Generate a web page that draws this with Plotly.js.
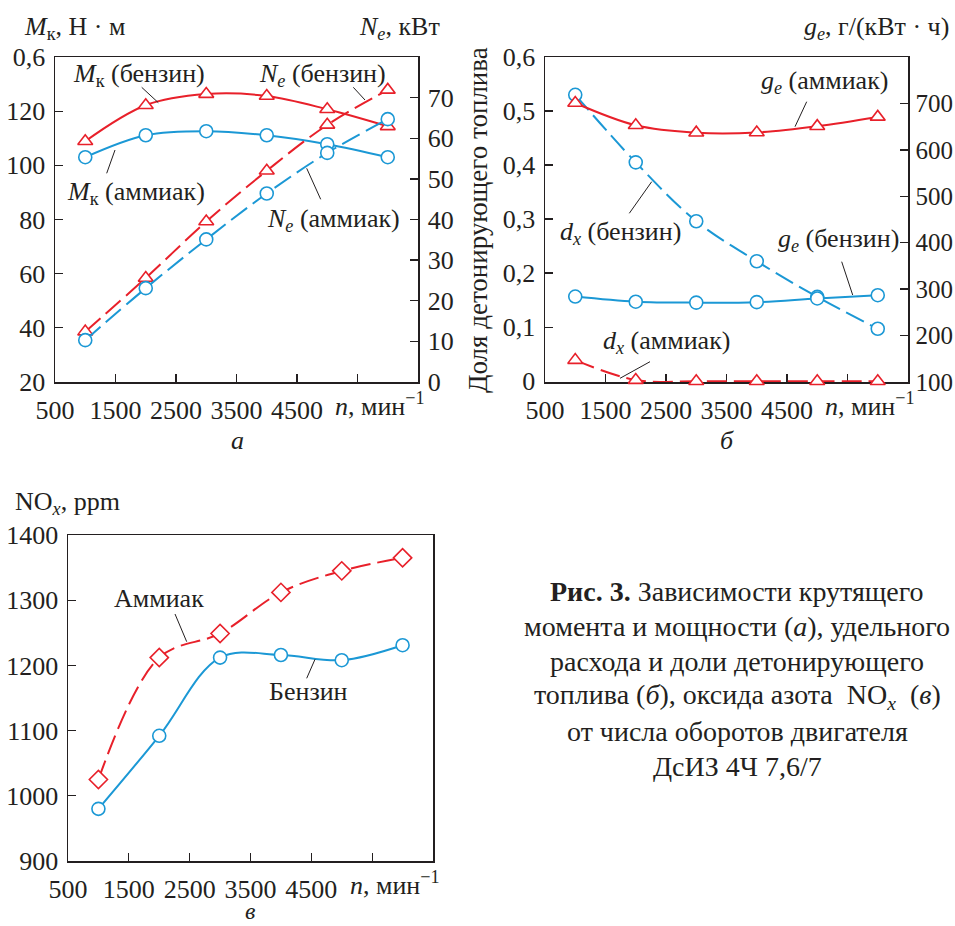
<!DOCTYPE html>
<html>
<head>
<meta charset="utf-8">
<script src="https://cdn.plot.ly/plotly-3.0.1.min.js"></script>
<style>html,body{margin:0;padding:0;background:#fff;overflow:hidden}</style>
</head>
<body>
<div id="chart" style="width:955px;height:926px"></div>
<script>
// ---------- data ----------
const rpm = [1000, 2000, 3000, 4000, 5000, 6000];
// panel a
const mkPetrol = [108.9, 122.2, 126.3, 125.6, 120.7, 114.4];
const mkAmmonia = [103.0, 111.1, 112.6, 111.1, 107.8, 103.0];
const nePetrol = [12.4, 25.6, 39.5, 52.0, 63.3, 71.9];
const neAmmonia = [10.3, 23.1, 35.1, 46.4, 56.4, 64.7];
// panel b
const geAmmonia = [701, 653, 637, 637.5, 651, 671];
const gePetrol = [284, 273, 271, 272, 280, 287];
const dxPetrol = [0.530, 0.405, 0.296, 0.222, 0.156, 0.097];
const dxAmmonia = [0.039, 0.002, 0, 0, 0, 0];
// panel c
const noxAmmonia = [1025, 1212, 1249, 1312, 1345, 1365];
const noxPetrol = [980, 1092, 1212, 1216, 1208, 1231];
// tick labels
const xTickVals = [500, 1500, 2500, 3500, 4500, 5500];
const xTickText = ['500', '1500', '2500', '3500', '4500', ''];
const mkTickVals = [20, 40, 60, 80, 100, 120, 140];
const mkTickText = ['20', '40', '60', '80', '100', '120', '0,6'];
const neTickVals = [0, 10, 20, 30, 40, 50, 60, 70];
const neTickText = ['0', '10', '20', '30', '40', '50', '60', '70'];
const dxTickVals = [0, 0.1, 0.2, 0.3, 0.4, 0.5, 0.6];
const dxTickText = ['0', '0,1', '0,2', '0,3', '0,4', '0,5', '0,6'];
const geTickVals = [100, 200, 300, 400, 500, 600, 700];
const geTickText = ['100', '200', '300', '400', '500', '600', '700'];
const noxTickVals = [900, 1000, 1100, 1200, 1300, 1400];
const noxTickText = ['900', '1000', '1100', '1200', '1300', '1400'];

// ---------- style ----------
const W = 955, H = 926;
const RED = '#e8202a', BLUE = '#1b98d5', INK = '#231f20';
const FONT = 'Liberation Serif, Times New Roman, serif';
const FS = 26;
const px = x => x / W;
const py = y => 1 - y / H;
const DASH = '20px,7px';

function tr(x, y, color, symbol, dash, xa, ya) {
  return {
    x: x, y: y, xaxis: xa, yaxis: ya, type: 'scatter', mode: 'lines+markers',
    line: {color: color, width: 2, shape: 'spline', smoothing: 1, dash: dash},
    marker: {symbol: symbol, size: symbol === 'diamond' ? 14 : 13, color: '#ffffff', line: {color: color, width: 1.6}},
    cliponaxis: false, showlegend: false, hoverinfo: 'skip'
  };
}

const traces = [
  tr(rpm, mkPetrol, RED, 'triangle-up', 'solid', 'x', 'y'),
  tr(rpm, mkAmmonia, BLUE, 'circle', 'solid', 'x', 'y'),
  tr(rpm, nePetrol, RED, 'triangle-up', DASH, 'x', 'y2'),
  tr(rpm, neAmmonia, BLUE, 'circle', DASH, 'x', 'y2'),
  tr(rpm, gePetrol, BLUE, 'circle', 'solid', 'x2', 'y4'),
  tr(rpm, geAmmonia, RED, 'triangle-up', 'solid', 'x2', 'y4'),
  tr(rpm, dxPetrol, BLUE, 'circle', DASH, 'x2', 'y3'),
  tr(rpm, dxAmmonia, RED, 'triangle-up', DASH, 'x2', 'y3'),
  tr(rpm, noxPetrol, BLUE, 'circle', 'solid', 'x3', 'y5'),
  tr(rpm, noxAmmonia, RED, 'diamond', DASH, 'x3', 'y5')
];

const tickFont = {family: FONT, size: 26, color: INK};
function xax(dom, anchor) {
  return {domain: dom, anchor: anchor, range: [500, 6500], tickmode: 'array', tickvals: xTickVals, ticktext: xTickText,
    ticks: 'inside', ticklen: 8, tickwidth: 1.3, tickcolor: INK, showline: true, linecolor: INK, linewidth: 1.5,
    mirror: true, showgrid: false, zeroline: false, tickfont: tickFont, fixedrange: true, layer: 'below traces', ticklabelstandoff: 4};
}
function yax(dom, anchor, range, vals, text, side, overlay, fsize, standoff) {
  const o = {domain: dom, anchor: anchor, range: range, tickmode: 'array', tickvals: vals, ticktext: text,
    ticks: 'inside', ticklen: 8, tickwidth: 1.3, tickcolor: INK, showline: true, linecolor: INK, linewidth: 1.5,
    showgrid: false, zeroline: false, tickfont: {family: FONT, size: fsize || 26, color: INK}, fixedrange: true, side: side,
    layer: 'below traces', ticklabelstandoff: standoff === undefined ? 3 : standoff};
  if (overlay) { o.overlaying = overlay; } else { o.mirror = true; }
  return o;
}

const domAx = [px(55), px(418)];
const domBx = [px(545), px(908)];
const domCx = [px(68), px(433)];
const domTop = [py(382), py(57)];
const domBot = [py(861), py(535)];

const layout = {
  width: W, height: H, margin: {l: 0, r: 0, t: 0, b: 0},
  paper_bgcolor: '#ffffff', plot_bgcolor: 'rgba(0,0,0,0)',
  font: {family: FONT, size: FS, color: INK},
  xaxis: xax(domAx, 'y'),
  yaxis: yax(domTop, 'x', [20, 140], mkTickVals, mkTickText, 'left'),
  yaxis2: yax(domTop, 'x', [0, 80], neTickVals, neTickText, 'right', 'y'),
  xaxis2: xax(domBx, 'y3'),
  yaxis3: yax(domTop, 'x2', [-0.0015, 0.6], dxTickVals, dxTickText, 'left'),
  yaxis4: yax(domTop, 'x2', [100, 800], geTickVals, geTickText, 'right', 'y3', 25, 1),
  xaxis3: xax(domCx, 'y5'),
  yaxis5: yax(domBot, 'x3', [900, 1400], noxTickVals, noxTickText, 'left'),
  annotations: [],
  shapes: []
};

function note(text, x, y, opts) {
  const o = Object.assign({text: text, x: px(x), y: py(y), xref: 'paper', yref: 'paper',
    xanchor: 'center', yanchor: 'middle', showarrow: false, size: FS}, opts || {});
  o.font = {family: FONT, size: o.size, color: INK};
  delete o.size;
  layout.annotations.push(o);
}
function leader(x0, y0, x1, y1) {
  layout.shapes.push({type: 'line', xref: 'paper', yref: 'paper', x0: px(x0), y0: py(y0), x1: px(x1), y1: py(y1),
    line: {color: INK, width: 1}});
}

// axis titles
note('<i>M</i><sub>к</sub>, Н · м', 22, 28, {xanchor: 'left'});
note('<i>N<sub>e</sub></i>, кВт', 442, 28, {xanchor: 'right'});
note('<i>g<sub>e</sub></i>, г/(кВт · ч)', 951, 28, {xanchor: 'right'});
note('Доля детонирующего топлива', 478, 220, {textangle: -90, size: 27});
note('NO<sub><i>x</i></sub>, ppm', 13, 503, {xanchor: 'left'});
note('<i>n</i>, мин<sup>−1</sup>', 333, 405, {xanchor: 'left'});
note('<i>n</i>, мин<sup>−1</sup>', 823, 405, {xanchor: 'left'});
note('<i>n</i>, мин<sup>−1</sup>', 348, 883, {xanchor: 'left'});
// panel letters
note('<i>а</i>', 237, 440);
note('<i>б</i>', 727, 440);
note('<i>в</i>', 250, 926, {yanchor: 'bottom', size: 24});

// curve labels, panel a
note('<i>M</i><sub>к</sub> (бензин)', 139, 75);
leader(141.7, 87.3, 158.3, 102.7);
note('<i>M</i><sub>к</sub> (аммиак)', 136, 193);
leader(106.7, 173.3, 115, 150);
note('<i>N<sub>e</sub></i> (бензин)', 322, 75);
leader(353.3, 87.3, 365, 100);
note('<i>N<sub>e</sub></i> (аммиак)', 333, 220);
leader(306.7, 168.3, 320.7, 199.3);
// panel b
note('<i>g<sub>e</sub></i> (аммиак)', 824, 82);
leader(806.7, 101.7, 795, 126.7);
note('<i>d<sub>x</sub></i> (бензин)', 620, 233);
leader(629.3, 213.3, 651.7, 181.7);
note('<i>g<sub>e</sub></i> (бензин)', 838, 240);
leader(841.7, 261.7, 852.7, 295);
note('<i>d<sub>x</sub></i> (аммиак)', 666, 342);
leader(650, 361.7, 620, 378.3);
// panel c
note('Аммиак', 159, 598);
leader(175, 614, 186.7, 641.7);
note('Бензин', 308, 691);
leader(306.7, 678.3, 315, 659.3);

// caption
const capLines = [
  '<b>Рис. 3.</b> Зависимости крутящего',
  'момента и мощности (<i>а</i>), удельного',
  'расхода и доли детонирующего',
  'топлива (<i>б</i>), оксида азота  NO<sub><i>x</i></sub>  (<i>в</i>)',
  'от числа оборотов двигателя',
  'ДсИЗ 4Ч 7,6/7'
];
const capY = [591, 626, 661, 696, 731, 766];
capLines.forEach((t, i) => note(t, 737, capY[i], {size: 28}));

Plotly.newPlot('chart', traces, layout, {staticPlot: true, displayModeBar: false});
</script>
</body>
</html>
